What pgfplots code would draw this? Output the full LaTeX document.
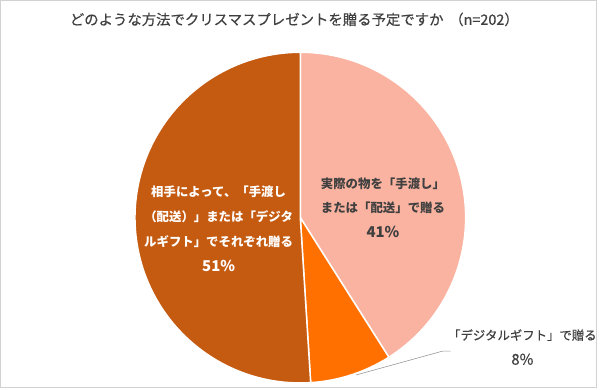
\documentclass[border=0pt]{standalone}
\usepackage{pgfplots}
\pgfplotsset{compat=1.18}
\usepackage{fontspec}
\setmainfont{Noto Sans CJK JP}
\newfontfamily\medfont[FakeBold=0.5]{Noto Sans CJK JP}
\definecolor{cDark}{HTML}{C55A11}
\definecolor{cMid}{HTML}{FF7000}
\definecolor{cLight}{HTML}{FAB3A0}
\definecolor{cText}{HTML}{404040}
\begin{document}
\begin{tikzpicture}
\def\va{41}\def\vb{8}\def\vc{51}
\begin{axis}[at={(0,0)},anchor=origin,x=1bp,y=1bp,xmin=0,xmax=600,ymin=0,ymax=391,
  hide axis,clip=false,scale only axis]
\draw[gray!35,line width=1pt] (axis cs:1,1) rectangle (axis cs:599,390);
% wedges (clockwise from top)
\pgfmathsetmacro{\aA}{90}
\pgfmathsetmacro{\aB}{90-3.6*\va}
\pgfmathsetmacro{\aC}{\aB-3.6*\vb}
\pgfmathsetmacro{\aD}{\aC-3.6*\vc}
\fill[cLight,draw=white,line width=1.5pt] (axis cs:302,172) -- ++(\aA:166bp) arc[start angle=\aA,end angle=\aB,radius=166bp] -- cycle;
\fill[cMid,draw=white,line width=1.5pt] (axis cs:302,172) -- ++(\aB:166bp) arc[start angle=\aB,end angle=\aC,radius=166bp] -- cycle;
\fill[cDark,draw=white,line width=1.5pt] (axis cs:302,172) -- ++(\aC:166bp) arc[start angle=\aC,end angle=\aD,radius=166bp] -- cycle;
% title
\node[text=cText,font=\medfont\fontsize{14.5}{17}\selectfont] at (axis cs:296,371) {どのような方法でクリスマスプレゼントを贈る予定ですか\hspace{0.4em}（n=202）};
% labels
\node[text=white,font=\bfseries\fontsize{12.5}{25}\selectfont,align=center] at (axis cs:220,161)
 {相手によって、「手渡し\\（配送）」または「デジタ\\ルギフト」でそれぞれ贈る\\{\fontsize{15}{25}\selectfont 51\%}};
\node[text=cText,font=\bfseries\fontsize{12.5}{24.5}\selectfont,align=center] at (axis cs:385,182)
 {実際の物を「手渡し」\\または「配送」で贈る\\{\fontsize{15}{25}\selectfont 41\%}};
\node[text=cText,font=\medfont\fontsize{12.5}{25}\selectfont,align=center] at (axis cs:525,42)
 {「デジタルギフト」で贈る\\{\fontsize{15}{25}\selectfont 8\%}};
\draw[gray!80,line width=0.6pt] (axis cs:358,14) -- (axis cs:445,38) -- (axis cs:453,38);
\end{axis}
\end{tikzpicture}
\end{document}
